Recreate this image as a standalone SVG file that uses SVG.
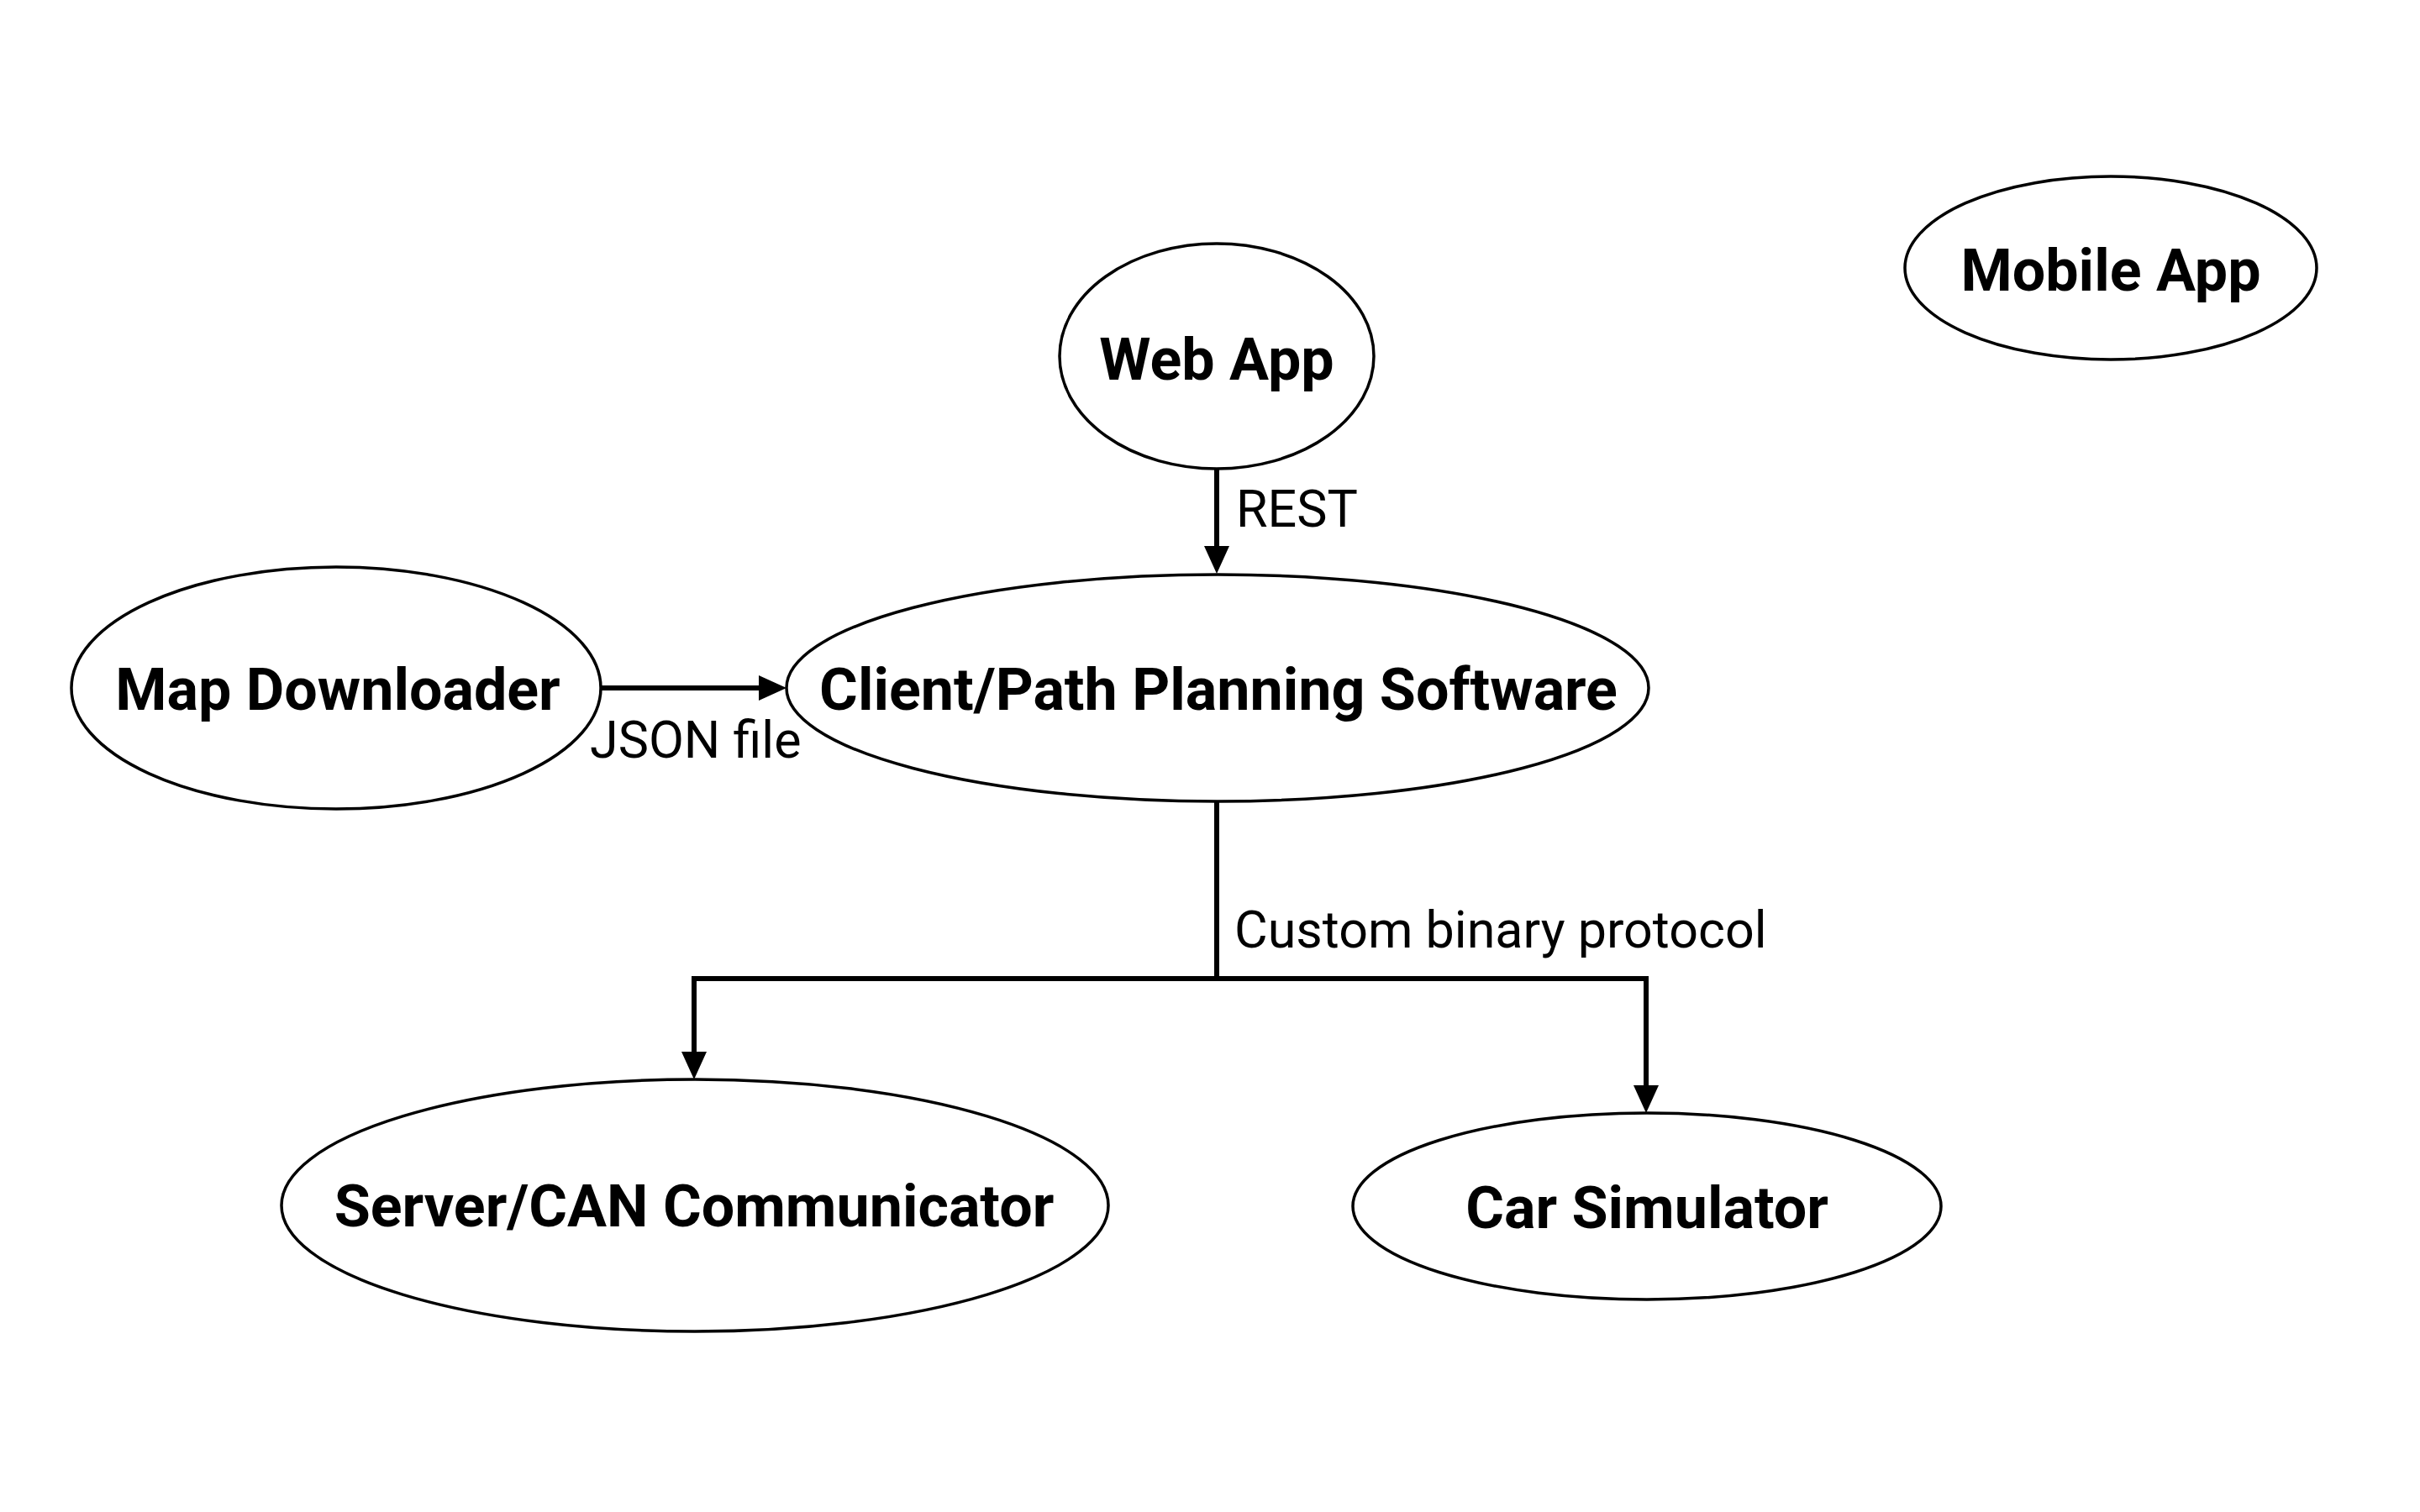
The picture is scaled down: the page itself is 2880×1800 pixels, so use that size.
<svg xmlns="http://www.w3.org/2000/svg" width="2880" height="1800" viewBox="0 0 2880 1800">
<style>
.node ellipse{fill:#fff;stroke:#000;stroke-width:3.5}
.node text{font-family:Roboto,"Liberation Sans",sans-serif;font-weight:bold;font-size:70px;text-anchor:middle;fill:#000}
.edge{fill:none;stroke:#000;stroke-width:6}
.lbl{font-family:Roboto,"Liberation Sans",sans-serif;font-size:61px;fill:#000}
</style>
<defs>
<marker id="arr" markerUnits="userSpaceOnUse" markerWidth="34" markerHeight="30" refX="13" refY="15" orient="auto" viewBox="0 0 34 30">
<path d="M0,0 L33,15 L0,30 z" fill="#000"/>
</marker>
</defs>
<rect width="2880" height="1800" fill="#fff"/>
<g id="connectors">
<path class="edge" d="M1448,558 V663" marker-end="url(#arr)"/>
<path class="edge" d="M716,819 H916" marker-end="url(#arr)"/>
<path class="edge" d="M1448,954 V1165"/>
<path class="edge" d="M826,1165 H1959"/>
<path class="edge" d="M826,1162 V1265" marker-end="url(#arr)"/>
<path class="edge" d="M1959,1162 V1305" marker-end="url(#arr)"/>
<text class="lbl" x="1471" y="627">REST</text>
<text class="lbl" x="702" y="902">JSON file</text>
<text class="lbl" x="1469" y="1128">Custom binary protocol</text>
</g>
<g id="web-app" class="node">
<ellipse cx="1448" cy="424" rx="187" ry="134"/>
<text x="1448" y="452">Web App</text>
</g>
<g id="mobile-app" class="node">
<ellipse cx="2512" cy="319" rx="245" ry="109"/>
<text x="2512" y="346">Mobile App</text>
</g>
<g id="map-downloader" class="node">
<ellipse cx="400" cy="819" rx="315" ry="144"/>
<text x="402" y="845">Map Downloader</text>
</g>
<g id="client" class="node">
<ellipse cx="1449" cy="819" rx="513" ry="135"/>
<text x="1450" y="845">Client/Path Planning Software</text>
</g>
<g id="server" class="node">
<ellipse cx="827" cy="1435" rx="492" ry="150"/>
<text x="826" y="1460">Server/CAN Communicator</text>
</g>
<g id="car-simulator" class="node">
<ellipse cx="1960" cy="1436" rx="350" ry="111"/>
<text x="1960" y="1462">Car Simulator</text>
</g>
</svg>
